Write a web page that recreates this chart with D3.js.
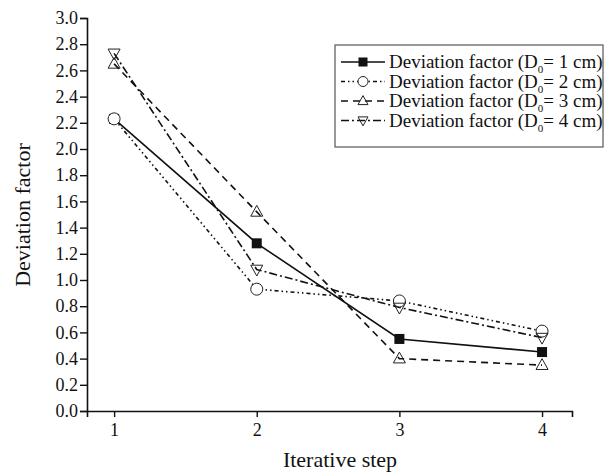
<!DOCTYPE html>
<html>
<head>
<meta charset="utf-8">
<script src="https://cdn.jsdelivr.net/npm/d3@7"></script>
<style>
  body { margin: 0; background: #fff; }
  text { font-family: "Liberation Serif", "Times New Roman", serif; fill: #111; }
</style>
</head>
<body>
<div id="chart"></div>
<script>
// Data
const steps = [1, 2, 3, 4];
const d1cm = [2.23, 1.28, 0.55, 0.45];
const d2cm = [2.23, 0.93, 0.84, 0.61];
const d3cm = [2.65, 1.52, 0.40, 0.35];
const d4cm = [2.73, 1.08, 0.79, 0.56];
const yTicks = [0, 0.2, 0.4, 0.6, 0.8, 1.0, 1.2, 1.4, 1.6, 1.8, 2.0, 2.2, 2.4, 2.6, 2.8, 3.0];
const seriesNames = ['1', '2', '3', '4'];

const series = [
    { name: seriesNames[0], values: d1cm, dash: null, marker: 'square' },
    { name: seriesNames[1], values: d2cm, dash: '4,3,1.5,3,1.5,3', marker: 'circle' },
    { name: seriesNames[2], values: d3cm, dash: '7,5', marker: 'triUp' },
    { name: seriesNames[3], values: d4cm, dash: '8,3,2,3', marker: 'triDown' }
];

const width = 615;
const height = 473;
const margin = { top: 18, right: 43, bottom: 62, left: 87 };

const svg = d3.select('#chart')
    .append('svg')
    .attr('width', width)
    .attr('height', height);

const xScale = d3.scaleLinear()
    .domain([0.81, 4.21])
    .range([margin.left, width - margin.right]);

const yScale = d3.scaleLinear()
    .domain([0, 3])
    .range([height - margin.bottom, margin.top]);

// Axes
const xAxis = d3.axisBottom(xScale)
    .tickValues(steps)
    .tickFormat(d3.format('d'))
    .tickSizeOuter(0)
    .tickSize(6)
    .tickPadding(4);

const gx = svg.append('g')
    .attr('transform', `translate(0, ${height - margin.bottom})`)
    .call(xAxis);

const yAxis = d3.axisLeft(yScale)
    .tickValues(yTicks)
    .tickFormat(d3.format('.1f'))
    .tickSizeOuter(0)
    .tickSize(7)
    .tickPadding(2);

const gy = svg.append('g')
    .attr('transform', `translate(${margin.left}, 0)`)
    .call(yAxis);

[gx, gy].forEach(g => {
    g.select('.domain').attr('stroke', '#111').attr('stroke-width', 1.6);
    g.selectAll('.tick line').attr('stroke', '#111').attr('stroke-width', 1.4);
    g.selectAll('.tick text')
        .style('font-family', '"Liberation Serif", serif')
        .style('font-size', '18px')
        .attr('fill', '#111');
});
gx.selectAll('.tick text').attr('dy', '0.85em');

// Axis titles
svg.append('text')
    .attr('x', 340)
    .attr('y', height - 6)
    .style('text-anchor', 'middle')
    .style('font-size', '22px')
    .text('Iterative step');

svg.append('text')
    .attr('transform', 'rotate(-90)')
    .attr('x', -215)
    .attr('y', 30)
    .style('text-anchor', 'middle')
    .style('font-size', '22px')
    .text('Deviation factor');

// Markers
function drawMarker(g, type, x, y, s) {
    if (type === 'square') {
        g.append('rect')
            .attr('x', x - s / 2).attr('y', y - s / 2)
            .attr('width', s).attr('height', s)
            .attr('fill', '#111');
    } else if (type === 'circle') {
        g.append('circle')
            .attr('cx', x).attr('cy', y).attr('r', s / 2)
            .attr('fill', '#fff').attr('stroke', '#222').attr('stroke-width', 1);
    } else {
        const h = s * 0.9;
        const dir = type === 'triUp' ? 1 : -1;
        const pts = [[x, y - dir * h * 0.6], [x - s / 2, y + dir * h * 0.4], [x + s / 2, y + dir * h * 0.4]];
        g.append('polygon')
            .attr('points', pts.map(p => p.join(',')).join(' '))
            .attr('fill', 'none').attr('stroke', '#222').attr('stroke-width', 1);
    }
}

const line = d3.line()
    .x((d, i) => xScale(steps[i]))
    .y(d => yScale(d));

const plot = svg.append('g');

series.forEach(s => {
    plot.append('path')
        .datum(s.values)
        .attr('d', line)
        .attr('fill', 'none')
        .attr('stroke', '#111')
        .attr('stroke-width', 1.6)
        .attr('stroke-dasharray', s.dash);
});

series.forEach(s => {
    const mg = plot.append('g');
    s.values.forEach((v, i) => drawMarker(mg, s.marker, xScale(steps[i]), yScale(v), s.marker === 'square' ? 10 : 12));
});

// Legend
const legend = svg.append('g')
    .attr('transform', 'translate(335, 45)');

legend.append('rect')
    .attr('width', 268)
    .attr('height', 102)
    .attr('fill', '#fff')
    .attr('stroke', '#555')
    .attr('stroke-width', 1.2);

series.forEach((s, i) => {
    const row = legend.append('g')
        .attr('transform', `translate(0, ${17 + i * 19.5})`);
    row.append('line')
        .attr('x1', 6).attr('x2', 50)
        .attr('stroke', '#111')
        .attr('stroke-width', 1.6)
        .attr('stroke-dasharray', s.dash);
    drawMarker(row, s.marker, 28, 0, s.marker === 'square' ? 9 : 10);
    const t = row.append('text')
        .attr('x', 54)
        .attr('y', 6)
        .style('font-size', '19px');
    t.append('tspan').text('Deviation factor (D');
    t.append('tspan').attr('dy', 5).style('font-size', '11px').text('0');
    t.append('tspan').attr('dy', -5).text(`= ${s.name} cm)`);
});
</script>
</body>
</html>
